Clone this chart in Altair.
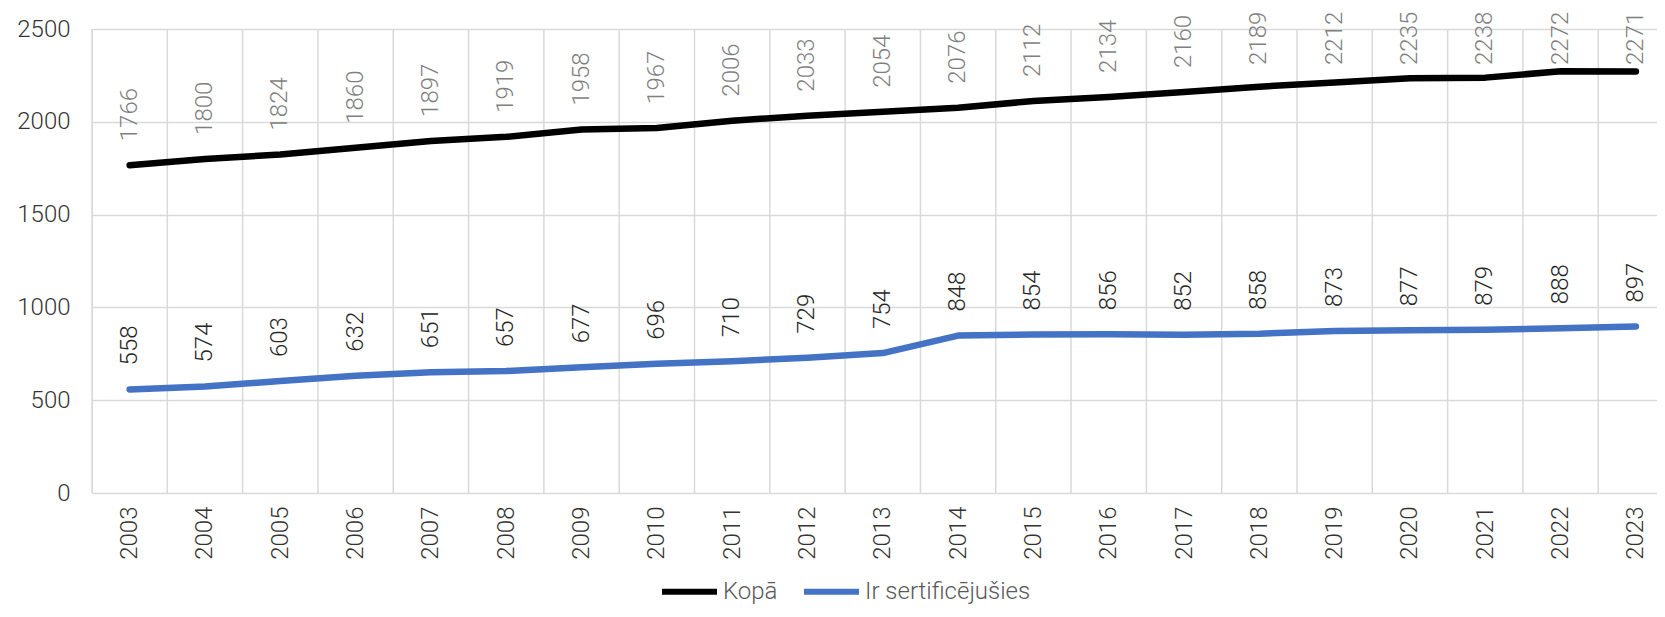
import altair as alt
import pandas as pd

years = list(range(2003, 2024))
kopa = [1766, 1800, 1824, 1860, 1897, 1919, 1958, 1967, 2006, 2033, 2054,
        2076, 2112, 2134, 2160, 2189, 2212, 2235, 2238, 2272, 2271]
sert = [558, 574, 603, 632, 651, 657, 677, 696, 710, 729, 754,
        848, 854, 856, 852, 858, 873, 877, 879, 888, 897]
series_names = ["Kopā", "Ir sertificējušies"]
y_ticks = [0, 500, 1000, 1500, 2000, 2500]

df = pd.DataFrame({"year": years, "Kopā": kopa, "Ir sertificējušies": sert})
long = df.melt(id_vars="year", var_name="series", value_name="value")

FONT = "Roboto Light, Roboto"
x_scale = alt.Scale(domain=[2002.5, 2023.28], nice=False, zero=False)
y_scale = alt.Scale(domain=[0, 2500], nice=False)

x_axis = alt.Axis(values=years, format="d", labelAngle=270, grid=False,
                  ticks=False, domain=False, labelPadding=13,
                  labelFontSize=24, labelFont=FONT, labelFontWeight=300,
                  labelColor="#333333", title=None)
y_axis = alt.Axis(values=y_ticks, format="d", grid=True, gridColor="#d9d9d9",
                  gridWidth=1.5, ticks=False, domain=False,
                  labelPadding=22, labelFontSize=24, labelFont=FONT,
                  labelFontWeight=300, labelColor="#333333", title=None)

grid = alt.Chart(pd.DataFrame({"year": years})).transform_calculate(
    gx="datum.year - 0.5"
).mark_rule(color="#d9d9d9", strokeWidth=1.5).encode(
    x=alt.X("gx:Q", scale=x_scale, axis=x_axis)
)

lines = alt.Chart(long).mark_line(
    strokeWidth=6.5, strokeCap="round", strokeJoin="round"
).encode(
    x=alt.X("year:Q", scale=x_scale, axis=x_axis),
    y=alt.Y("value:Q", scale=y_scale, axis=y_axis),
    color=alt.Color("series:N",
                    scale=alt.Scale(domain=series_names, range=["#000000", "#4472C4"]),
                    legend=alt.Legend(title=None, orient="none", direction="horizontal",
                                      legendX=567, legendY=532,
                                      symbolType="stroke", symbolSize=3025,
                                      symbolStrokeWidth=6, labelFontSize=24,
                                      labelFont=FONT, labelFontWeight=300,
                                      labelColor="#595959", labelOffset=3,
                                      labelLimit=0, columnPadding=14)),
)

labels = alt.Chart(long).transform_calculate(
    ly="min(datum.value, 2177)"
).mark_text(
    angle=270, align="left", baseline="middle", dx=24,
    fontSize=24, font=FONT, fontWeight=300
).encode(
    x=alt.X("year:Q", scale=x_scale, axis=x_axis),
    y=alt.Y("ly:Q", scale=y_scale, axis=y_axis),
    text=alt.Text("value:Q"),
    color=alt.condition(alt.datum.series == "Kopā", alt.value("#7f7f7f"), alt.value("#262626")),
)

chart = alt.layer(grid, lines, labels).properties(
    width=1565, height=464,
    autosize=alt.AutoSizeParams(type="none"),
    padding={"left": 84, "top": 21, "right": 0, "bottom": 115},
).configure_view(stroke=None).configure(background="white")

chart.save("out.html", embed_options={"renderer": "svg", "actions": False})
